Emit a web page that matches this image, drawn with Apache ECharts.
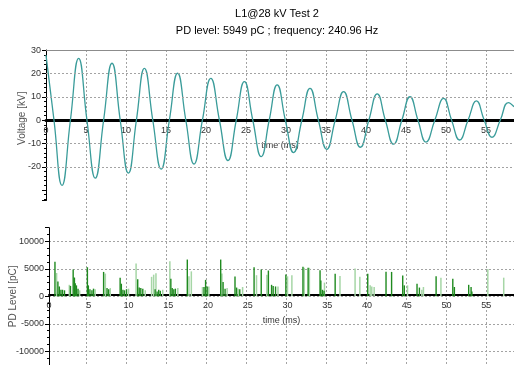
<!DOCTYPE html>
<html>
<head>
<meta charset="utf-8">
<script src="https://cdn.jsdelivr.net/npm/echarts@6/dist/echarts.min.js"></script>
<style>
html, body { margin: 0; padding: 0; background: #fff; }
#J_chart { width: 514px; height: 365px; }
</style>
</head>
<body>
<div id="J_chart"></div>
<script>
// 电压波形：读图得到的峰、谷和过零点
const voltTime = [0, 1.0, 2.0, 3.05, 4.08, 5.12, 6.16, 7.2, 8.25, 9.28, 10.3, 11.3, 12.3, 13.35, 14.4, 15.42,
    16.45, 17.48, 18.5, 19.55, 20.6, 21.68, 22.75, 23.78, 24.8, 25.85, 26.9, 27.9, 28.9, 29.92, 30.95, 31.98,
    33.0, 34.05, 35.1, 36.15, 37.2, 38.25, 39.3, 40.35, 41.4, 42.42, 43.45, 44.48, 45.5, 46.5, 47.5, 48.6,
    49.7, 50.7, 51.7, 52.75, 53.8, 54.78, 55.75, 56.78, 57.8, 58.5];
const voltValue = [28, 0, -28, 0, 26.6, 0, -24.9, 0, 24.5, 0, -22.7, 0, 22.3, 0, -21, 0,
    20.2, 0, -18.8, 0, 18, 0, -17.3, 0, 16.6, 0, -15.6, 0, 15.2, 0, -13.9, 0,
    13.7, 0, -12.5, 0, 12.3, 0, -11.6, 0, 11.3, 0, -10.3, 0, 10.1, 0, -9.4, 0,
    9.4, 0, -8.5, 0, 8.3, 0, -7.3, 0, 7.6, 5.8];

// PD 脉冲（深色 / 浅色两组）
const pdDarkTime = [0.75, 1.12, 1.3, 1.5, 1.7, 1.95, 2.7, 3.04, 3.2, 3.3, 3.45, 3.65,
    4.83, 4.95, 5.15, 5.4, 5.6, 6.87, 7.3, 7.5, 8.95, 9.1, 9.3, 9.5, 9.75,
    11.16, 11.35, 11.55, 11.8, 13.35, 13.6, 13.8, 14.0, 15.33, 15.5, 15.7, 15.9,
    17.4, 19.5, 19.7, 19.9, 21.6, 21.9, 22.15, 23.4, 23.6, 24.0,
    25.8, 26.7, 27.6, 28.0, 28.2, 28.5, 29.8, 31.95, 32.6, 34.1, 34.2, 34.4, 34.6,
    36.0, 40.1, 42.4, 43.1, 44.5, 44.7, 46.3, 46.6, 48.7, 50.8, 51.0, 52.8, 53.1, 53.2];
const pdDarkLevel = [6300, 2700, 1800, 1200, 1200, 1100, 1900, 4900, 3400, 2400, 2000, 1400,
    5300, 2000, 1300, 1100, 1400, 4450, 1500, 1300, 3400, 2300, 1200, 1100, 1300,
    3100, 1600, 1500, 1400, 1300, 900, 1200, 1000, 3200, 1500, 1300, 1400,
    6700, 1700, 3000, 1800, 6700, 2600, 1400, 3600, 1600, 1300,
    5300, 4900, 4700, 2100, 1900, 1800, 4000, 5400, 5200, 4750, 2900, 1200, 1000,
    4100, 4100, 4500, 4450, 3800, 2000, 2300, 1600, 3650, 3200, 1700, 2100, 1700, 900];
const pdLightTime = [0.95, 2.55, 3.15, 3.85, 5.8, 7.08, 7.7, 10.0, 10.95, 12.1,
    12.9, 13.16, 13.45, 14.3, 15.2, 16.2, 17.6, 17.9, 19.3, 20.1,
    21.75, 22.4, 23.8, 24.35, 26.1, 27.4, 28.8, 30.0, 30.55,
    32.1, 32.75, 34.65, 36.6, 38.5, 39.1, 40.4, 40.6, 40.9,
    45.1, 46.9, 47.1, 49.3, 55.2, 57.2];
const pdLightLevel = [4250, 2100, 3500, 1100, 1300, 4150, 1500, 1400, 6000, 1100,
    3550, 3950, 4200, 1200, 6400, 1500, 3650, 4550, 1700, 1800,
    4150, 1500, 1400, 1700, 3850, 3950, 1800, 3650, 3850,
    5200, 5200, 2500, 3700, 5050, 3550, 2000, 1800, 1700,
    2000, 1200, 1700, 3400, 5000, 3400];

const voltGrid = [20, 10, -10, -20];

const FONT = '"Liberation Sans", Arial, sans-serif';
const LEFT = 46;
const T_MAX = 58.5;

function zip(a, b) {
    return a.map((v, i) => [v, b[i]]);
}

let dashLine = {
    color: '#a3a3a3',
    type: [2, 2],
    width: 1
};

let labelStyle = {
    fontSize: 9,
    color: '#333',
    fontFamily: FONT
};

// 时间轴：整条轴（线、标签、名称）用 offset 挪到 0 值处
function timeAxis(gridIndex, lineWidth, offset) {
    return {
        type: 'value',
        gridIndex: gridIndex,
        min: 0,
        max: T_MAX,
        interval: 5,
        position: 'bottom',
        offset: offset,
        name: 'time (ms)',
        nameLocation: 'middle',
        nameGap: 21,
        nameMoveOverlap: false,
        nameTextStyle: Object.assign({}, labelStyle),
        axisLine: {
            onZero: false,
            lineStyle: {color: '#000', width: lineWidth}
        },
        axisTick: {show: false},
        axisLabel: Object.assign({margin: 6, showMaxLabel: false}, labelStyle),
        splitLine: {show: false}
    };
}

let options = {
    animation: false,
    backgroundColor: '#fff',
    title: {
        text: 'L1@28 kV Test 2',
        subtext: 'PD level: 5949 pC ; frequency: 240.96 Hz',
        left: 272,
        textAlign: 'center',
        top: 3,
        itemGap: 6,
        textStyle: {fontSize: 11, fontWeight: 'normal', color: '#000', fontFamily: FONT},
        subtextStyle: {fontSize: 11, color: '#000', fontFamily: FONT}
    },
    grid: [
        {left: LEFT, right: 0, top: 50, bottom: 0},
        {left: LEFT, right: 0, top: 50, height: 150.5},
        {left: LEFT, right: 0, top: 227.7, height: 140}
    ],
    xAxis: [{
        type: 'value',
        gridIndex: 0,
        min: 0,
        max: T_MAX,
        interval: 5,
        position: 'top',
        axisLine: {onZero: false, lineStyle: {color: '#8c8c8c', width: 1}},
        axisTick: {show: false},
        axisLabel: {show: false},
        splitLine: {show: true, showMinLine: false, showMaxLine: false, lineStyle: dashLine}
    }, timeAxis(1, 3, -80.5), timeAxis(2, 2, -70)],
    yAxis: [{
        type: 'value',
        gridIndex: 0,
        show: false,
        min: 0,
        max: 1
    }, {
        type: 'value',
        gridIndex: 1,
        min: -34.5,
        max: 30.2,
        name: 'Voltage [kV]',
        nameLocation: 'middle',
        nameGap: 19,
        nameMoveOverlap: false,
        nameTextStyle: {fontSize: 10, color: '#555', fontFamily: FONT, padding: [0, 0, 0, 14]},
        axisLine: {show: true, onZero: false, lineStyle: {color: '#000', width: 1}},
        axisTick: {show: true, length: 4, lineStyle: {color: '#000'}},
        minorTick: {show: true, splitNumber: 5, length: 2, lineStyle: {color: '#000'}},
        axisLabel: Object.assign({
            margin: 5,
            showMinLabel: false,
            showMaxLabel: false,
            formatter: v => (v >= -25 && v % 10 === 0) ? String(v) : ''
        }, labelStyle),
        splitLine: {show: false}
    }, {
        type: 'value',
        gridIndex: 2,
        min: -12500,
        max: 12500,
        splitNumber: 5,
        name: 'PD Level [pC]',
        nameLocation: 'middle',
        nameGap: 31,
        nameMoveOverlap: false,
        nameTextStyle: {fontSize: 10, color: '#555', fontFamily: FONT},
        axisLine: {show: true, onZero: false, lineStyle: {color: '#000', width: 1}},
        axisTick: {show: true, length: 4, lineStyle: {color: '#000'}},
        minorTick: {show: true, splitNumber: 4, length: 2, lineStyle: {color: '#000'}},
        axisLabel: Object.assign({
            margin: 5,
            showMinLabel: false,
            showMaxLabel: false,
            formatter: v => String(v)
        }, labelStyle),
        splitLine: {show: true, showMinLine: false, showMaxLine: false, lineStyle: dashLine}
    }],
    series: [{
        type: 'line',
        xAxisIndex: 1,
        yAxisIndex: 1,
        smooth: 0.5,
        showSymbol: false,
        lineStyle: {color: '#3a9c9a', width: 1.3},
        markLine: {
            silent: true,
            symbol: ['none', 'none'],
            label: {show: false},
            lineStyle: dashLine,
            data: voltGrid.map(v => ({yAxis: v}))
        },
        data: zip(voltTime, voltValue)
    }, {
        type: 'bar',
        xAxisIndex: 2,
        yAxisIndex: 2,
        barWidth: 1.5,
        barGap: '-100%',
        itemStyle: {color: '#a6d6a6'},
        data: zip(pdLightTime, pdLightLevel)
    }, {
        type: 'bar',
        xAxisIndex: 2,
        yAxisIndex: 2,
        barWidth: 1.4,
        barGap: '-100%',
        itemStyle: {color: '#1f8a1f'},
        data: zip(pdDarkTime, pdDarkLevel)
    }]
};

let chart = echarts.init(document.getElementById('J_chart'));
chart.setOption(options);
</script>
</body>
</html>
